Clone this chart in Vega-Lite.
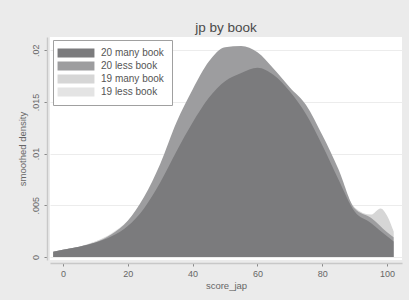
{
  "$schema": "https://vega.github.io/schema/vega-lite/v6.json",
  "width": 352,
  "height": 223,
  "autosize": {"type": "none"},
  "padding": {"left": 50, "top": 37, "right": 7, "bottom": 40},
  "background": "#ebebeb",
  "title": {"text": "jp by book", "fontSize": 13.5, "font": "Liberation Sans", "fontWeight": "normal", "color": "#4a4a4a", "offset": 3, "anchor": "middle"},
  "config": {
    "view": {"fill": "white", "stroke": null},
    "font": "Liberation Sans"
  },
  "data": {"values": [
    {"g": "19 less book", "x": -3, "d": 0.0005}, {"g": "19 less book", "x": 0, "d": 0.0007}, {"g": "19 less book", "x": 5, "d": 0.001}, {"g": "19 less book", "x": 10, "d": 0.0015}, {"g": "19 less book", "x": 15, "d": 0.0023}, {"g": "19 less book", "x": 20, "d": 0.0035}, {"g": "19 less book", "x": 25, "d": 0.0056}, {"g": "19 less book", "x": 30, "d": 0.0086}, {"g": "19 less book", "x": 35, "d": 0.0122}, {"g": "19 less book", "x": 40, "d": 0.0152}, {"g": "19 less book", "x": 45, "d": 0.0176}, {"g": "19 less book", "x": 50, "d": 0.019}, {"g": "19 less book", "x": 55, "d": 0.0194}, {"g": "19 less book", "x": 60, "d": 0.019}, {"g": "19 less book", "x": 65, "d": 0.0176}, {"g": "19 less book", "x": 70, "d": 0.0159}, {"g": "19 less book", "x": 75, "d": 0.0142}, {"g": "19 less book", "x": 80, "d": 0.0112}, {"g": "19 less book", "x": 85, "d": 0.008}, {"g": "19 less book", "x": 90, "d": 0.0046}, {"g": "19 less book", "x": 95, "d": 0.0039}, {"g": "19 less book", "x": 98, "d": 0.0043}, {"g": "19 less book", "x": 100, "d": 0.0037}, {"g": "19 less book", "x": 102, "d": 0.0024},
    {"g": "19 many book", "x": -3, "d": 0.0005}, {"g": "19 many book", "x": 0, "d": 0.0007}, {"g": "19 many book", "x": 5, "d": 0.001}, {"g": "19 many book", "x": 10, "d": 0.0015}, {"g": "19 many book", "x": 15, "d": 0.0022}, {"g": "19 many book", "x": 20, "d": 0.0032}, {"g": "19 many book", "x": 25, "d": 0.005}, {"g": "19 many book", "x": 30, "d": 0.0076}, {"g": "19 many book", "x": 35, "d": 0.0105}, {"g": "19 many book", "x": 40, "d": 0.0133}, {"g": "19 many book", "x": 45, "d": 0.0154}, {"g": "19 many book", "x": 50, "d": 0.0167}, {"g": "19 many book", "x": 55, "d": 0.0174}, {"g": "19 many book", "x": 60, "d": 0.0177}, {"g": "19 many book", "x": 65, "d": 0.0174}, {"g": "19 many book", "x": 70, "d": 0.016}, {"g": "19 many book", "x": 75, "d": 0.014}, {"g": "19 many book", "x": 80, "d": 0.0111}, {"g": "19 many book", "x": 85, "d": 0.0079}, {"g": "19 many book", "x": 90, "d": 0.0048}, {"g": "19 many book", "x": 95, "d": 0.0041}, {"g": "19 many book", "x": 98, "d": 0.0047}, {"g": "19 many book", "x": 100, "d": 0.004}, {"g": "19 many book", "x": 102, "d": 0.0025},
    {"g": "20 less book", "x": -3, "d": 0.0005}, {"g": "20 less book", "x": 0, "d": 0.0007}, {"g": "20 less book", "x": 5, "d": 0.001}, {"g": "20 less book", "x": 10, "d": 0.0014}, {"g": "20 less book", "x": 15, "d": 0.0022}, {"g": "20 less book", "x": 20, "d": 0.0035}, {"g": "20 less book", "x": 25, "d": 0.0058}, {"g": "20 less book", "x": 30, "d": 0.009}, {"g": "20 less book", "x": 35, "d": 0.013}, {"g": "20 less book", "x": 40, "d": 0.0162}, {"g": "20 less book", "x": 45, "d": 0.0189}, {"g": "20 less book", "x": 50, "d": 0.0203}, {"g": "20 less book", "x": 55, "d": 0.0204}, {"g": "20 less book", "x": 60, "d": 0.0198}, {"g": "20 less book", "x": 65, "d": 0.0182}, {"g": "20 less book", "x": 70, "d": 0.0164}, {"g": "20 less book", "x": 75, "d": 0.0147}, {"g": "20 less book", "x": 80, "d": 0.0118}, {"g": "20 less book", "x": 85, "d": 0.0085}, {"g": "20 less book", "x": 90, "d": 0.0047}, {"g": "20 less book", "x": 95, "d": 0.0038}, {"g": "20 less book", "x": 100, "d": 0.0024}, {"g": "20 less book", "x": 102, "d": 0.0019},
    {"g": "20 many book", "x": -3, "d": 0.0005}, {"g": "20 many book", "x": 0, "d": 0.0007}, {"g": "20 many book", "x": 5, "d": 0.001}, {"g": "20 many book", "x": 10, "d": 0.0014}, {"g": "20 many book", "x": 15, "d": 0.002}, {"g": "20 many book", "x": 20, "d": 0.003}, {"g": "20 many book", "x": 25, "d": 0.0047}, {"g": "20 many book", "x": 30, "d": 0.0072}, {"g": "20 many book", "x": 35, "d": 0.0102}, {"g": "20 many book", "x": 40, "d": 0.013}, {"g": "20 many book", "x": 45, "d": 0.0154}, {"g": "20 many book", "x": 50, "d": 0.017}, {"g": "20 many book", "x": 55, "d": 0.0178}, {"g": "20 many book", "x": 60, "d": 0.0183}, {"g": "20 many book", "x": 65, "d": 0.0176}, {"g": "20 many book", "x": 70, "d": 0.016}, {"g": "20 many book", "x": 75, "d": 0.0138}, {"g": "20 many book", "x": 80, "d": 0.0108}, {"g": "20 many book", "x": 85, "d": 0.0075}, {"g": "20 many book", "x": 90, "d": 0.0044}, {"g": "20 many book", "x": 95, "d": 0.0033}, {"g": "20 many book", "x": 100, "d": 0.002}, {"g": "20 many book", "x": 102, "d": 0.0015}
  ]},
  "mark": {"type": "area", "interpolate": "monotone", "opacity": 1},
  "encoding": {
    "x": {
      "field": "x", "type": "quantitative",
      "scale": {"domain": [-4, 104.6], "nice": false, "zero": false},
      "axis": {
        "title": "score_jap", "values": [0, 20, 40, 60, 80, 100],
        "grid": false, "offset": 3,
        "domainColor": "#c8c8c8", "domainWidth": 1.5,
        "tickColor": "#888888", "tickSize": 3,
        "labelFontSize": 9, "labelColor": "#666666", "labelPadding": 3,
        "titleFontSize": 9.5, "titleFontWeight": "normal", "titleColor": "#666666", "titlePadding": 2
      }
    },
    "y": {
      "field": "d", "type": "quantitative", "stack": null,
      "scale": {"domain": [-0.00029, 0.02128], "nice": false, "zero": false},
      "axis": {
        "title": "smoothed density", "values": [0, 0.005, 0.01, 0.015, 0.02],
        "labelExpr": "datum.value == 0 ? '0' : replace(toString(datum.value), '0.', '.')",
        "grid": true, "gridColor": "#ececec", "gridWidth": 1,
        "offset": 3,
        "domainColor": "#c8c8c8", "domainWidth": 1.5,
        "tickColor": "#888888", "tickSize": 3,
        "labelAngle": 270, "labelAlign": "center", "labelBaseline": "bottom",
        "labelFontSize": 9, "labelColor": "#666666", "labelPadding": 4,
        "titleFontSize": 9.5, "titleFontWeight": "normal", "titleColor": "#666666", "titlePadding": 4
      }
    },
    "color": {
      "field": "g", "type": "nominal",
      "scale": {
        "domain": ["20 many book", "20 less book", "19 many book", "19 less book"],
        "range": ["#7b7b7d", "#9d9d9f", "#d6d6d6", "#e4e4e4"]
      },
      "legend": {
        "title": null, "orient": "none", "legendX": 3, "legendY": 3,
        "fillColor": "white", "strokeColor": "#a0a0a0", "padding": 8,
        "symbolType": "M-4.1,-1H4.1V1H-4.1Z", "symbolSize": 81, "symbolOpacity": 1,
        "symbolStrokeWidth": 0, "symbolOffset": 10,
        "labelFontSize": 10, "labelColor": "#555555", "labelOffset": 20, "rowPadding": 3
      }
    },
    "order": {"field": "g"}
  }
}
